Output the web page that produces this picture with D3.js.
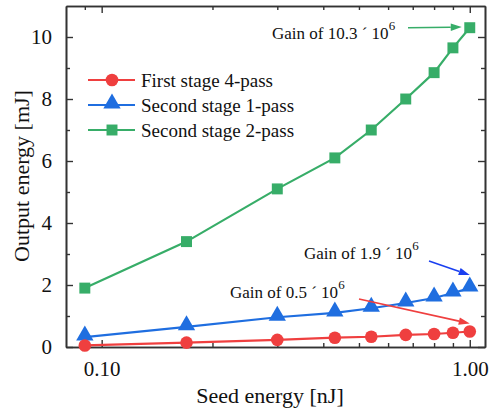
<!DOCTYPE html>
<html>
<head>
<meta charset="utf-8">
<script src="https://cdn.jsdelivr.net/npm/d3@7/dist/d3.min.js"></script>
<style>
  svg text, svg tspan { font-family: "Liberation Serif", Tinos, "Times New Roman" !important; }
</style>
</head>
<body style="margin:0">
<svg id="chart" width="491" height="412" font-family="Liberation Serif" style="display:block"></svg>
<script>
// Seed energy (nJ) and output energy (mJ) for each amplifier stage
const seedEnergy = [0.09, 0.17, 0.30, 0.43, 0.54, 0.67, 0.80, 0.90, 1.00];
const firstStage4Pass = [0.05, 0.14, 0.23, 0.30, 0.33, 0.39, 0.42, 0.46, 0.50];
const secondStage1Pass = [0.32, 0.65, 0.96, 1.10, 1.25, 1.42, 1.58, 1.74, 1.90];
const secondStage2Pass = [1.90, 3.40, 5.10, 6.10, 7.00, 8.00, 8.85, 9.65, 10.30];

const xMajorTicks = [0.10, 1.00];
const xMinorTicks = [0.09, 0.2, 0.3, 0.4, 0.5, 0.6, 0.7, 0.8, 0.9];
const yMajorTicks = [0, 2, 4, 6, 8, 10];
const yMinorTicks = [1, 3, 5, 7, 9];

const seriesNames = ["First stage 4-pass", "Second stage 1-pass", "Second stage 2-pass"];
const gainLabels = ["Gain of 0.5 ´ 10", "Gain of 1.9 ´ 10", "Gain of 10.3 ´ 10"];

const colors = ["#ef3f3f", "#1f6ee0", "#37ad68"];
const arrowColors = ["#ef3f3f", "#1a3ff0", "#37ad68"];
const symbols = [d3.symbolCircle, d3.symbolTriangle, d3.symbolSquare];
const symbolSizes = [125, 130, 120];

const FAMILY = "Liberation Serif";

// Apply the serif face both as attribute and inline style
function serif(sel, size) {
  return sel.attr("font-family", FAMILY).attr("font-size", size)
    .style("font-family", `"${FAMILY}"`).style("font-size", size + "px");
}

const svg = d3.select("#chart");
const margin = { left: 66, right: 6, top: 6, bottom: 65 };
const W = 491, H = 412;

const x = d3.scaleLog().domain([0.08, 1.1]).range([margin.left, W - margin.right]);
const y = d3.scaleLinear().domain([0, 11]).range([H - margin.bottom, margin.top]);

const axisColor = "#333";

// Frame with inward-pointing ticks on all four sides
function styleAxis(g) {
  g.attr("font-family", FAMILY).attr("font-size", 21);
  g.selectAll("path.domain").attr("stroke", axisColor).attr("stroke-width", 1.6);
  g.selectAll(".tick line").attr("stroke", axisColor).attr("stroke-width", 1.4);
  g.selectAll(".tick text").attr("fill", "#111").call(serif, 21);
}

const fmt = d3.format(".2f");

// bottom
svg.append("g").attr("transform", `translate(0,${y(0)})`)
  .call(d3.axisBottom(x).tickValues(xMajorTicks).tickFormat(fmt).tickSizeInner(-7).tickSizeOuter(0).tickPadding(14))
  .call(styleAxis);
svg.append("g").attr("transform", `translate(0,${y(0)})`)
  .call(d3.axisBottom(x).tickValues(xMinorTicks).tickFormat("").tickSizeInner(-4).tickSizeOuter(0))
  .call(styleAxis);
// top
svg.append("g").attr("transform", `translate(0,${y(11)})`)
  .call(d3.axisTop(x).tickValues(xMajorTicks).tickFormat("").tickSizeInner(-7).tickSizeOuter(0))
  .call(styleAxis);
svg.append("g").attr("transform", `translate(0,${y(11)})`)
  .call(d3.axisTop(x).tickValues(xMinorTicks).tickFormat("").tickSizeInner(-4).tickSizeOuter(0))
  .call(styleAxis);
// left
svg.append("g").attr("transform", `translate(${x(0.08)},0)`)
  .call(d3.axisLeft(y).tickValues(yMajorTicks).tickFormat(d3.format("d")).tickSizeInner(-7).tickSizeOuter(0).tickPadding(14))
  .call(styleAxis);
svg.append("g").attr("transform", `translate(${x(0.08)},0)`)
  .call(d3.axisLeft(y).tickValues(yMinorTicks).tickFormat("").tickSizeInner(-4).tickSizeOuter(0))
  .call(styleAxis);
// right
svg.append("g").attr("transform", `translate(${x(1.1)},0)`)
  .call(d3.axisRight(y).tickValues(yMajorTicks).tickFormat("").tickSizeInner(-7).tickSizeOuter(0))
  .call(styleAxis);
svg.append("g").attr("transform", `translate(${x(1.1)},0)`)
  .call(d3.axisRight(y).tickValues(yMinorTicks).tickFormat("").tickSizeInner(-4).tickSizeOuter(0))
  .call(styleAxis);

// Series lines and markers
const allSeries = [firstStage4Pass, secondStage1Pass, secondStage2Pass];
const line = d3.line().x((d, i) => x(seedEnergy[i])).y(d => y(d));

[2, 1, 0].forEach(k => {
  const vals = allSeries[k];
  svg.append("path").datum(vals)
    .attr("d", line)
    .attr("fill", "none")
    .attr("stroke", colors[k])
    .attr("stroke-width", 2.2);
  svg.append("g").selectAll("path").data(vals).join("path")
    .attr("transform", (d, i) => `translate(${x(seedEnergy[i])},${y(d) + (k === 1 ? -1.5 : 0)})`)
    .attr("d", d3.symbol().type(symbols[k]).size(symbolSizes[k]))
    .attr("fill", colors[k]);
});

// Legend
const legend = svg.append("g").attr("transform", "translate(88,80)");
seriesNames.forEach((name, k) => {
  const g = legend.append("g").attr("transform", `translate(0,${k * 25})`);
  g.append("line").attr("x1", 0).attr("x2", 47).attr("stroke", colors[k]).attr("stroke-width", 2.2);
  g.append("path").attr("transform", `translate(24,${k === 1 ? -1.5 : 0})`)
    .attr("d", d3.symbol().type(symbols[k]).size(symbolSizes[k]))
    .attr("fill", colors[k]);
  g.append("text").attr("x", 53).attr("y", 6.5).attr("fill", "#111").call(serif, 19).text(name);
});

// Gain annotations with arrows pointing at the final seed energy
const lastIdx = seedEnergy.length - 1;
const annot = [
  { k: 0, tx: 230, ty: 298, ax1: 359, ay1: 299, tipDx: 0, tipDy: -8 },
  { k: 1, tx: 304, ty: 259, ax1: 429, ay1: 261, tipDx: 0, tipDy: -13 },
  { k: 2, tx: 272, ty: 39, ax1: 408, ay1: 27.7, tipDx: -8, tipDy: -0.6 }
];
annot.forEach(a => {
  const t = svg.append("text").attr("x", a.tx).attr("y", a.ty).attr("fill", "#111").call(serif, 17);
  t.append("tspan").text(gainLabels[a.k]);
  t.append("tspan").attr("dy", -9).call(serif, 13).text("6");

  const px = x(seedEnergy[lastIdx]) + a.tipDx;
  const py = y(allSeries[a.k][lastIdx]) + a.tipDy;
  const ang = Math.atan2(py - a.ay1, px - a.ax1);
  const len = 11, half = 3.8;
  const bx = px - len * Math.cos(ang), by = py - len * Math.sin(ang);
  svg.append("line")
    .attr("x1", a.ax1).attr("y1", a.ay1).attr("x2", bx).attr("y2", by)
    .attr("stroke", arrowColors[a.k]).attr("stroke-width", 1.6);
  const head = d3.path();
  head.moveTo(px, py);
  head.lineTo(bx + half * Math.sin(ang), by - half * Math.cos(ang));
  head.lineTo(bx - half * Math.sin(ang), by + half * Math.cos(ang));
  head.closePath();
  svg.append("path").attr("d", head.toString()).attr("fill", arrowColors[a.k]);
});

// Axis titles
svg.append("text").attr("x", 270).attr("y", 403).attr("text-anchor", "middle").attr("fill", "#111")
  .call(serif, 22).text("Seed energy [nJ]");
svg.append("text").attr("transform", "translate(29,176) rotate(-90)").attr("text-anchor", "middle").attr("fill", "#111")
  .call(serif, 22).text("Output energy [mJ]");
</script>
</body>
</html>
